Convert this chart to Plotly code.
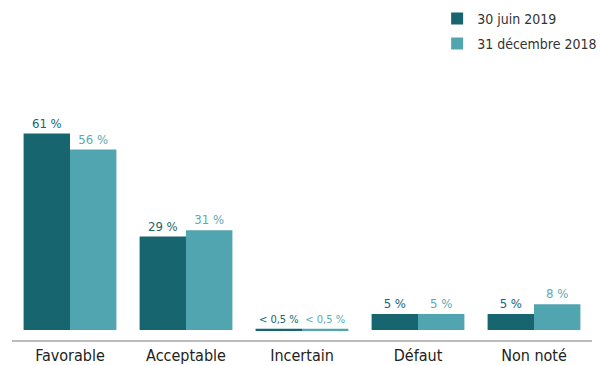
import plotly.graph_objects as go

categories = ["Favorable", "Acceptable", "Incertain", "Défaut", "Non noté"]
series_names = ["30 juin 2019", "31 décembre 2018"]
values_2019 = [61, 29, 0.4, 5, 5]
values_2018 = [56, 31, 0.4, 5, 8]
labels_2019 = ["61 %", "29 %", "< 0,5 %", "5 %", "5 %"]
labels_2018 = ["56 %", "31 %", "< 0,5 %", "5 %", "8 %"]

dark = "#17666F"
light = "#50A5B1"
font_family = "DejaVu Sans Condensed, Liberation Sans Narrow, Roboto, Arial, sans-serif"
label_sizes = [13, 13, 11, 13, 13]

fig = go.Figure()
fig.add_trace(go.Bar(x=categories, y=values_2019, name=series_names[0], marker_color=dark,
                     marker_line_width=0, legendgroup="a",
                     text=labels_2019, textposition="outside", cliponaxis=False,
                     textfont=dict(color=dark, size=label_sizes, family=font_family)))
fig.add_trace(go.Bar(x=categories, y=values_2018, name=series_names[1], marker_color=light,
                     marker_line_width=0, legendgroup="b",
                     text=labels_2018, textposition="outside", cliponaxis=False,
                     textfont=dict(color="#5AAAB5", size=label_sizes, family=font_family)))

fig.update_layout(
    width=600, height=365,
    margin=dict(l=12, r=8, t=100, b=25, autoexpand=False),
    paper_bgcolor="white", plot_bgcolor="white",
    barmode="group", bargap=0.2, bargroupgap=0,
    font=dict(family=font_family, color="#333333", size=15),
    showlegend=True,
    legend=dict(x=0.733, y=1.405, xanchor="left", yanchor="top",
                traceorder="grouped", tracegroupgap=4,
                font=dict(size=14, color="#333333", family=font_family),
                itemwidth=30, bgcolor="rgba(0,0,0,0)"),
    xaxis=dict(showline=True, linecolor="#BBBBBB", linewidth=1.5, ticks="",
               tickfont=dict(size=16, color="#222222", family=font_family),
               showgrid=False),
    yaxis=dict(visible=False, range=[-3.1, 71.4], showgrid=False, zeroline=False),
)

fig.write_html("out.html")
